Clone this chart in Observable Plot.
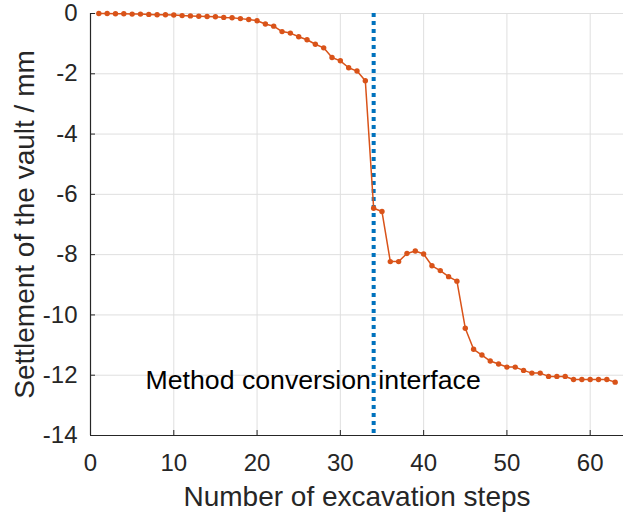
<!DOCTYPE html>
<html>
<head>
<meta charset="utf-8">
<script src="https://cdn.jsdelivr.net/npm/d3@7"></script>
<script src="https://cdn.jsdelivr.net/npm/@observablehq/plot@0.6"></script>
<style>
  html, body { margin: 0; padding: 0; background: #fff; }
  #chart svg { display: block; }
</style>
</head>
<body>
<div id="chart"></div>
<script>
const steps = [1,2,3,4,5,6,7,8,9,10,11,12,13,14,15,16,17,18,19,20,21,22,23,24,25,26,27,28,29,30,31,32,33,34,35,36,37,38,39,40,41,42,43,44,45,46,47,48,49,50,51,52,53,54,55,56,57,58,59,60,61,62,63];
const settlement = [0,0,-0.01,-0.01,-0.02,-0.02,-0.03,-0.04,-0.04,-0.05,-0.07,-0.08,-0.09,-0.10,-0.11,-0.13,-0.14,-0.17,-0.20,-0.24,-0.35,-0.42,-0.60,-0.65,-0.77,-0.87,-1.02,-1.14,-1.46,-1.57,-1.80,-1.91,-2.23,-6.46,-6.57,-8.23,-8.23,-7.96,-7.88,-7.98,-8.37,-8.53,-8.73,-8.88,-10.44,-11.14,-11.33,-11.53,-11.63,-11.73,-11.73,-11.84,-11.93,-11.93,-12.04,-12.04,-12.04,-12.14,-12.14,-12.14,-12.14,-12.14,-12.23];
const xTicks = [0,10,20,30,40,50,60];
const yTicks = [0,-2,-4,-6,-8,-10,-12,-14];
const interfaceStep = [34];
const annotation = [{x: 6.6, y: -12.47, label: "Method conversion interface"}];
const xTitle = "Number of excavation steps";
const yTitle = "Settlement of the vault / mm";

const data = steps.map((s, i) => ({step: s, value: settlement[i]}));

const textColor = "#262626";
const orange = "#D95319";
const blue = "#0072BD";
const gridColor = "#dfdfdf";

const chart = Plot.plot({
  width: 623,
  height: 513,
  marginLeft: 90,
  marginRight: 0,
  marginTop: 13,
  marginBottom: 78,
  style: {fontFamily: "'Liberation Sans', Arial, Helvetica, sans-serif", background: "#fff"},
  x: {domain: [0, 64]},
  y: {domain: [-14, 0]},
  marks: [
    Plot.gridX(xTicks, {stroke: gridColor, strokeOpacity: 1}),
    Plot.gridY(yTicks, {stroke: gridColor, strokeOpacity: 1}),
    Plot.ruleX(interfaceStep, {stroke: blue, strokeWidth: 4, strokeDasharray: "4,4"}),
    Plot.line(data, {x: "step", y: "value", stroke: orange, strokeWidth: 1.5}),
    Plot.dot(data, {x: "step", y: "value", r: 2.7, fill: orange, stroke: null}),
    Plot.text(annotation, {x: "x", y: "y", text: "label", textAnchor: "start", lineAnchor: "bottom", fontSize: 26.7, fill: "#000"}),
    Plot.axisX({ticks: xTicks, tickSize: -5, tickPadding: 23, fontSize: 24, color: textColor, label: null, tickFormat: d => String(d)}),
    Plot.axisY({ticks: yTicks, tickSize: -5, tickPadding: 18, fontSize: 24, color: textColor, label: null, tickFormat: d => String(d)}),
    Plot.ruleY([-14], {stroke: textColor, strokeWidth: 1.2}),
    Plot.ruleX([0], {stroke: textColor, strokeWidth: 1.2}),
    Plot.text([xTitle], {frameAnchor: "bottom", dy: 70, lineAnchor: "bottom", textAnchor: "middle", fontSize: 28, fill: textColor}),
    Plot.text([yTitle], {frameAnchor: "left", dx: -57, rotate: -90, lineAnchor: "bottom", textAnchor: "middle", fontSize: 28, fill: textColor})
  ]
});
document.getElementById("chart").appendChild(chart);
</script>
</body>
</html>
